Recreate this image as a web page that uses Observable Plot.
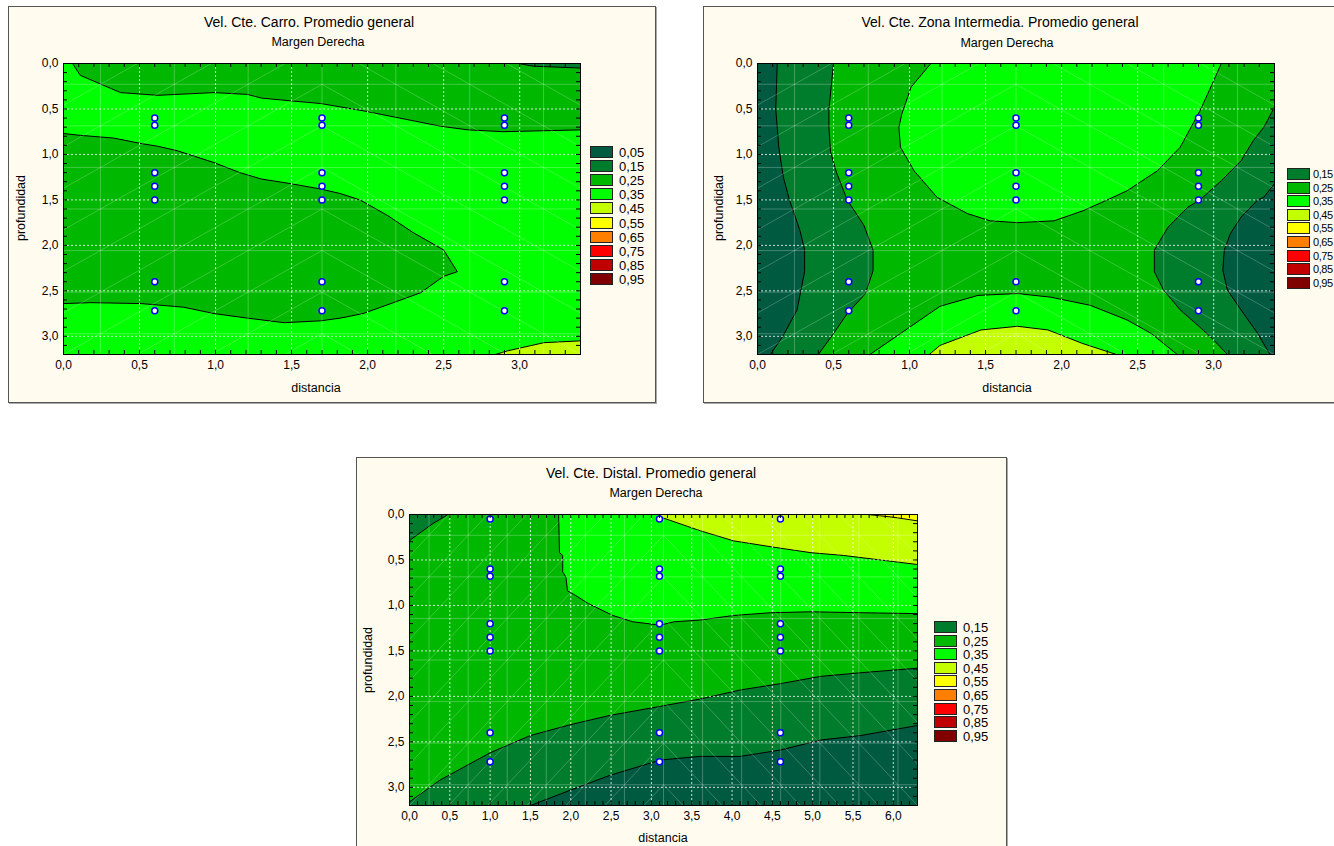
<!DOCTYPE html>
<html><head><meta charset="utf-8">
<script src="https://cdn.jsdelivr.net/npm/d3@7"></script>
<script src="https://cdn.jsdelivr.net/npm/@observablehq/plot@0.6"></script>
<style>
body{margin:0;width:1334px;height:846px;overflow:hidden;background:#fff;position:relative;font-family:"Liberation Sans",Arial,sans-serif;color:#000}
.frame{position:absolute;background:#fffcef;border:1px solid #555;box-shadow:1px 1px 0 #aaa}
.t{position:absolute;white-space:nowrap;line-height:1;transform:translate(-50%,-50%)}
.rot{transform:translate(-50%,-50%) rotate(-90deg)}
.pl{position:absolute}
.lb{position:absolute;width:21px;height:10px;border:1px solid #222}
.lt{position:absolute;font-size:13px;line-height:1;transform:translateY(-50%);white-space:nowrap}
</style></head><body>
<script>
// ---------- shared values ----------
const legendLabelsA = ["0,05","0,15","0,25","0,35","0,45","0,55","0,65","0,75","0,85","0,95"];
const legendColorsA = ["#005a40","#007d2c","#00b800","#00ff00","#c4ff00","#ffff00","#ff8000","#ff0000","#c00000","#800000"];
const legendLabelsB = ["0,15","0,25","0,35","0,45","0,55","0,65","0,75","0,85","0,95"];
const legendColorsB = ["#007d2c","#00b800","#00ff00","#c4ff00","#ffff00","#ff8000","#ff0000","#c00000","#800000"];
const cTeal = "#005a40", cDark = "#007d2c", cMed = "#00b800", cBright = "#00ff00", cYG = "#c4ff00", cYel = "#ffff00";

const yTicks = [0,0.5,1,1.5,2,2.5,3];
const xTicksShort = [0,0.5,1,1.5,2,2.5,3];
const xTicksLong = [0,0.5,1,1.5,2,2.5,3,3.5,4,4.5,5,5.5,6];

const pointDepths = [0.6,0.68,1.2,1.35,1.5,2.4,2.72];
const carroDist = [0.6,1.7,2.9];
const zonaDist = [0.6,1.7,2.9];
const distalDist = [1.0,3.1,4.6];
const distalDepths = [0.05,0.6,0.68,1.2,1.35,1.5,2.4,2.72];

// ---------- panel 1: Carro ----------
const carroTopBand = [[0.06,0],[0.11,0.13],[0.375,0.32],[0.62,0.35],[0.99,0.32],[1.21,0.34],[1.30,0.38],[1.49,0.41],[1.69,0.44],[1.97,0.52],[2.48,0.69],[2.66,0.73],[2.89,0.75],[3.4,0.73],[3.4,0]];
const carroTopRight = [[2.99,0],[3.09,0.03],[3.4,0.05],[3.4,0]];
const carroLobe = [[0,0.77],[0.11,0.79],[0.33,0.82],[0.51,0.88],[0.62,0.91],[0.75,0.96],[0.99,1.09],[1.16,1.20],[1.30,1.27],[1.49,1.32],[1.69,1.38],[1.82,1.43],[1.95,1.5],[2.13,1.67],[2.30,1.86],[2.5,2.05],[2.59,2.29],[2.5,2.34],[2.35,2.52],[2.17,2.63],[1.97,2.75],[1.82,2.80],[1.69,2.83],[1.45,2.85],[1.21,2.80],[0.99,2.75],[0.79,2.68],[0.51,2.64],[0.18,2.63],[0,2.64]];
const carroBottomRight = [[2.84,3.2],[2.92,3.16],[3.16,3.07],[3.4,3.05],[3.4,3.2]];

// ---------- panel 2: Zona Intermedia ----------
const zonaLeftDark = [[0,0],[0.5,0],[0.47,0.5],[0.47,0.70],[0.48,0.97],[0.52,1.2],[0.59,1.5],[0.70,1.78],[0.76,2.05],[0.76,2.28],[0.71,2.53],[0.59,2.75],[0.5,2.97],[0.40,3.2],[0,3.2]];
const zonaLeftTeal = [[0,0],[0.13,0],[0.12,0.5],[0.14,0.92],[0.17,1.25],[0.21,1.5],[0.28,1.84],[0.31,2.05],[0.31,2.29],[0.26,2.71],[0.17,2.99],[0.085,3.2],[0,3.2]];
const zonaRightDark = [[3.4,0.48],[3.33,0.70],[3.26,0.85],[3.18,1.07],[3.05,1.29],[2.91,1.5],[2.83,1.58],[2.70,1.80],[2.61,2.05],[2.61,2.29],[2.67,2.49],[2.78,2.71],[2.91,2.9],[3.0,3.04],[3.09,3.2],[3.4,3.2]];
const zonaRightTeal = [[3.4,1.32],[3.33,1.47],[3.29,1.5],[3.18,1.69],[3.11,1.87],[3.07,2.05],[3.06,2.27],[3.09,2.49],[3.18,2.71],[3.29,2.97],[3.37,3.2],[3.4,3.2]];
const zonaTopBright = [[1.14,0],[1.01,0.26],[0.95,0.55],[0.93,0.70],[0.94,0.92],[1.03,1.18],[1.18,1.47],[1.38,1.65],[1.53,1.73],[1.71,1.75],[1.95,1.73],[2.14,1.62],[2.30,1.5],[2.43,1.40],[2.63,1.18],[2.78,0.92],[2.91,0.52],[3.0,0.19],[3.05,0]];
const zonaBottomBright = [[0.74,3.2],[0.94,2.97],[1.20,2.67],[1.45,2.55],[1.71,2.53],[1.93,2.57],[2.19,2.66],[2.43,2.82],[2.59,2.97],[2.76,3.2]];
const zonaBottomYellow = [[1.13,3.2],[1.20,3.1],[1.47,2.93],[1.71,2.89],[1.91,2.93],[2.14,3.08],[2.36,3.2]];

// ---------- panel 3: Distal ----------
const distalTopLeft = [[0,0],[0.48,0],[0.29,0.10],[0.01,0.28],[0,0.29]];
const distalBright = [[1.85,0],[1.86,0.42],[1.90,0.45],[1.90,0.63],[1.94,0.69],[1.96,0.84],[2.06,0.89],[2.22,0.98],[2.52,1.11],[2.77,1.18],[3.05,1.21],[3.14,1.21],[3.28,1.18],[3.61,1.16],[4.02,1.11],[4.48,1.08],[4.98,1.07],[5.6,1.08],[6.3,1.09],[6.3,0]];
const distalYellowGreen = [[3.1,0],[3.12,0.03],[3.61,0.18],[4.02,0.29],[4.52,0.36],[4.98,0.42],[5.38,0.45],[6.3,0.55],[6.3,0]];
const distalYellow = [[5.68,0],[6.0,0.03],[6.3,0.07],[6.3,0]];
const distalLowerDark = [[0,3.16],[0.38,2.92],[1.0,2.62],[1.5,2.43],[2.0,2.31],[2.48,2.21],[3.11,2.11],[3.6,2.03],[4.1,1.93],[4.6,1.86],[5.1,1.78],[5.6,1.74],[6.3,1.69],[6.3,3.2],[0,3.2]];
const distalBottomTeal = [[1.5,3.2],[2.0,3.03],[2.48,2.87],[3.11,2.70],[3.6,2.66],[4.1,2.66],[4.6,2.59],[5.1,2.48],[5.6,2.43],[6.3,2.32],[6.3,3.2]];

// ---------- helpers ----------
const fmt = d => d.toFixed(1).replace(".", ",");
const cross = (xs, ys) => xs.flatMap(x => ys.map(y => ({x, y})));

function addDiv(cls, text, x, y, size, extra) {
  const d = document.createElement("div");
  d.className = cls; d.textContent = text;
  d.style.left = x + "px"; d.style.top = y + "px";
  if (size) d.style.fontSize = size + "px";
  if (extra) Object.assign(d.style, extra);
  document.body.appendChild(d);
  return d;
}

// interpolation mesh texture (cell edges + triangulation diagonals)
function meshCells(xmax, nx, ny) {
  const dx = xmax / nx, dy = 3.2 / ny;
  const cells = [];
  for (let i = 0; i <= nx; i++) for (let j = 0; j <= ny; j++) {
    const x1 = (i - 0.5) * dx, x2 = (i + 0.5) * dx, y1 = (j - 0.5) * dy, y2 = (j + 0.5) * dy;
    cells.push(i * dx < xmax / 2 ? {x1, x2, y1: y2, y2: y1} : {x1, x2, y1, y2});
  }
  const edgesX = d3.range(1, nx + 1).map(i => (i - 0.5) * dx);
  const edgesY = d3.range(1, ny + 1).map(j => (j - 0.5) * dy);
  return {cells, edgesX, edgesY};
}

function panel(cfg) {
  const {left, top, w, h, xmax, xTicks, base, regions, points, nx} = cfg;
  const ml = 45, mr = 10, mt = 10, mb = 30;
  const minorX = d3.range(0, xmax + 1e-9, 0.1);
  const minorY = d3.range(0, 3.2 + 1e-9, 0.1);
  const mesh = meshCells(xmax, nx, 7);
  const chart = Plot.plot({
    width: w + ml + mr, height: h + mt + mb,
    marginLeft: ml, marginRight: mr, marginTop: mt, marginBottom: mb,
    x: {domain: [0, xmax]},
    y: {domain: [0, 3.2], reverse: true},
    style: {fontFamily: '"Liberation Sans", Arial, sans-serif', fontSize: "12px", color: "#000", background: "transparent", overflow: "visible"},
    marks: [
      Plot.frame({fill: base, stroke: null}),
      ...regions.map(r => Plot.line(r.poly, {x: d => d[0], y: d => d[1], fill: r.color, stroke: "#000", strokeWidth: 1, strokeLinejoin: "round"})),
      Plot.link(mesh.cells, {x1: "x1", y1: "y1", x2: "x2", y2: "y2", stroke: "#fff", strokeOpacity: 0.22, clip: true}),
      Plot.ruleX(mesh.edgesX.filter(v => v < xmax), {stroke: "#fff", strokeOpacity: 0.25}),
      Plot.ruleY(mesh.edgesY.filter(v => v < 3.2), {stroke: "#fff", strokeOpacity: 0.25}),
      Plot.ruleX(xTicks.filter(v => v > 0 && v < xmax), {stroke: "#fff", strokeOpacity: 0.8, strokeDasharray: "2,2"}),
      Plot.ruleY(yTicks.filter(v => v > 0 && v < 3.2), {stroke: "#fff", strokeOpacity: 0.8, strokeDasharray: "2,2"}),
      Plot.dot(points, {x: "x", y: "y", r: 3, fill: "#fff", stroke: "#0000ff", strokeWidth: 1.5}),
      Plot.frame({stroke: "#000"}),
      Plot.tickX(minorX, {x: d => d, insetTop: h - 4, stroke: "#000"}),
      Plot.tickX(minorX, {x: d => d, insetBottom: h - 4, stroke: "#000"}),
      Plot.tickY(minorY, {y: d => d, insetLeft: w - 4, stroke: "#000"}),
      Plot.tickY(minorY, {y: d => d, insetRight: w - 4, stroke: "#000"}),
      Plot.axisX({ticks: xTicks, tickSize: 0, tickPadding: 6, tickFormat: fmt, label: null}),
      Plot.axisY({ticks: yTicks, tickSize: 0, tickPadding: 5, tickFormat: fmt, label: null})
    ]
  });
  const wrap = document.createElement("div");
  wrap.className = "pl";
  wrap.style.left = (left - ml) + "px";
  wrap.style.top = (top - mt) + "px";
  wrap.appendChild(chart);
  document.body.appendChild(wrap);
}

function legend(labels, colors, x, y0, step, textStyle) {
  labels.forEach((lab, i) => {
    const cy = y0 + i * step;
    const b = document.createElement("div");
    b.className = "lb";
    b.style.left = x + "px"; b.style.top = (cy - 6) + "px";
    b.style.background = colors[i];
    document.body.appendChild(b);
    addDiv("lt", lab, x + (textStyle ? 26 : 29), cy, null, textStyle);
  });
}

// ---------- frames ----------
function frame(l, t, w, h) {
  const f = document.createElement("div");
  f.className = "frame";
  Object.assign(f.style, {left: l + "px", top: t + "px", width: w + "px", height: h + "px"});
  document.body.appendChild(f);
}
frame(8, 6, 646, 395);
frame(703, 6, 700, 395);
frame(356, 457, 649, 420);

// ---------- panel 1 ----------
panel({left: 63, top: 63, w: 517, h: 291, xmax: 3.4, nx: 7, xTicks: xTicksShort, base: cBright,
  regions: [
    {poly: carroTopBand, color: cMed},
    {poly: carroTopRight, color: cDark},
    {poly: carroLobe, color: cMed},
    {poly: carroBottomRight, color: cYG}
  ],
  points: cross(carroDist, pointDepths)});
addDiv("t", "Vel. Cte. Carro. Promedio general", 309, 22, 14);
addDiv("t", "Margen Derecha", 318, 42, 12.5);
addDiv("t rot", "profundidad", 21, 208, 12.5);
addDiv("t", "distancia", 316, 388, 12.5);
legend(legendLabelsA, legendColorsA, 590, 152, 14.1);

// ---------- panel 2 ----------
panel({left: 757, top: 63, w: 517, h: 291, xmax: 3.4, nx: 7, xTicks: xTicksShort, base: cMed,
  regions: [
    {poly: zonaLeftDark, color: cDark},
    {poly: zonaLeftTeal, color: cTeal},
    {poly: zonaRightDark, color: cDark},
    {poly: zonaRightTeal, color: cTeal},
    {poly: zonaTopBright, color: cBright},
    {poly: zonaBottomBright, color: cBright},
    {poly: zonaBottomYellow, color: cYG}
  ],
  points: cross(zonaDist, pointDepths)});
addDiv("t", "Vel. Cte. Zona Intermedia. Promedio general", 1000, 22, 14);
addDiv("t", "Margen Derecha", 1007, 43, 12.5);
addDiv("t rot", "profundidad", 719, 208, 12.5);
addDiv("t", "distancia", 1007, 388, 12.5);
legend(legendLabelsB, legendColorsB, 1287, 174, 13.6, {fontSize: "11px", letterSpacing: "-0.4px"});

// ---------- panel 3 ----------
panel({left: 409, top: 514, w: 508, h: 291, xmax: 6.3, nx: 13, xTicks: xTicksLong, base: cMed,
  regions: [
    {poly: distalTopLeft, color: cDark},
    {poly: distalBright, color: cBright},
    {poly: distalYellowGreen, color: cYG},
    {poly: distalYellow, color: cYel},
    {poly: distalLowerDark, color: cDark},
    {poly: distalBottomTeal, color: cTeal}
  ],
  points: cross(distalDist, distalDepths)});
addDiv("t", "Vel. Cte. Distal. Promedio general", 651, 473, 14);
addDiv("t", "Margen Derecha", 656, 493, 12.5);
addDiv("t rot", "profundidad", 368, 660, 12.5);
addDiv("t", "distancia", 663, 838, 12.5);
legend(legendLabelsB, legendColorsB, 934, 627, 13.6);
</script>
</body></html>
